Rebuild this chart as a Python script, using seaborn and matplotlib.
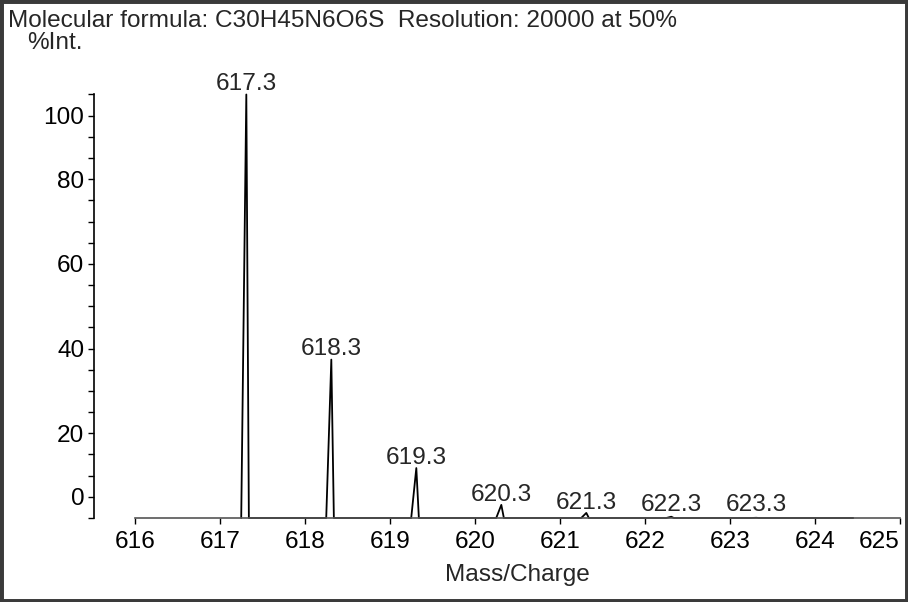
import matplotlib
matplotlib.use("Agg")
import matplotlib.pyplot as plt
import numpy as np
import pandas as pd
import seaborn as sns
from matplotlib.patches import Rectangle
from matplotlib.ticker import MultipleLocator

# isotope peaks
peak_mz = [617.31, 618.31, 619.31, 620.31, 621.31, 622.31, 623.31]
peak_int = [100.0, 37.4, 11.8, 3.1, 1.2, 0.3, 0.05]
peak_labels = ["617.3", "618.3", "619.3", "620.3", "621.3", "622.3", "623.3"]
baseline_end = 624.45

x_ticks = [616, 617, 618, 619, 620, 621, 622, 623, 624, 625]
y_tick_pos = [5, 20, 40, 60, 80, 95]
y_tick_labels = ["0", "20", "40", "60", "80", "100"]

FS = 17.6


def build_profile():
    # thin triangle per peak, joined along the baseline
    xs, ys = [], []
    for m, h in zip(peak_mz, peak_int):
        xs += [m - 0.06, m, m + 0.03]
        ys += [0, h, 0]
    xs.append(baseline_end)
    ys.append(0)
    return pd.DataFrame({"mz": xs, "int": ys})


def main():
    sns.set_theme(style="white")
    plt.rcParams["font.family"] = ["Liberation Sans", "DejaVu Sans"]
    plt.rcParams["font.size"] = FS

    W, H = 908, 602
    fig = plt.figure(figsize=(W / 100, H / 100), dpi=100)
    ax = fig.add_axes([94 / W, 84 / H, 808 / W, (518 - 94.5) / H])

    df = build_profile()
    sns.lineplot(data=df, x="mz", y="int", sort=False, estimator=None,
                 color="black", linewidth=1.3, ax=ax)
    for line in ax.lines:
        line.set_clip_on(False)

    for m, h, lab in zip(peak_mz, peak_int, peak_labels):
        ax.annotate(lab, (m, max(h, 0.6)), xytext=(0, 3),
                    textcoords="offset points", ha="center",
                    va="baseline", fontsize=FS)

    ax.set_xlim(615.518, 625.024)
    ax.set_ylim(0, 100)
    for s in ["top", "right"]:
        ax.spines[s].set_visible(False)
    ax.spines["left"].set_bounds(0, 100)
    ax.spines["bottom"].set_bounds(616, 625)
    ax.spines["left"].set_color("black")
    ax.spines["bottom"].set_color("#555555")
    ax.spines["left"].set_linewidth(1.2)
    ax.spines["bottom"].set_linewidth(1.2)

    ax.set_xticks(x_ticks)
    ax.set_xticklabels([str(t) for t in x_ticks])
    ax.set_yticks(y_tick_pos)
    ax.set_yticklabels(y_tick_labels)
    ax.yaxis.set_minor_locator(MultipleLocator(5))
    ax.tick_params(axis="both", which="both", direction="out", length=4,
                   width=1, colors="black", labelsize=FS, left=True,
                   bottom=True)
    ax.tick_params(axis="y", which="major", pad=3)
    ax.tick_params(axis="x", which="major", pad=5)
    ax.tick_params(axis="x", which="minor", bottom=False)
    # last label is pulled inside the frame
    ax.get_xticklabels()[-1].set_horizontalalignment("right")

    ax.set_xlabel("Mass/Charge", fontsize=FS)
    ax.set_ylabel("")
    xmin, xmax = ax.get_xlim()
    ax.xaxis.set_label_coords((620.5 - xmin) / (xmax - xmin), -0.108)
    ax.grid(False)

    fig.text(8 / W, 1 - 27 / H, "Molecular formula: C30H45N6O6S  "
             "Resolution: 20000 at 50%", fontsize=FS, va="baseline")
    fig.text(27 / W, 1 - 49 / H, "%Int.", fontsize=FS, va="baseline")

    fig.patches.append(Rectangle((0, 0), 1, 1, transform=fig.transFigure,
                                 fill=False, edgecolor="#3a3a3a",
                                 linewidth=5))

    fig.savefig("out.png", dpi=100)


if __name__ == "__main__":
    main()
